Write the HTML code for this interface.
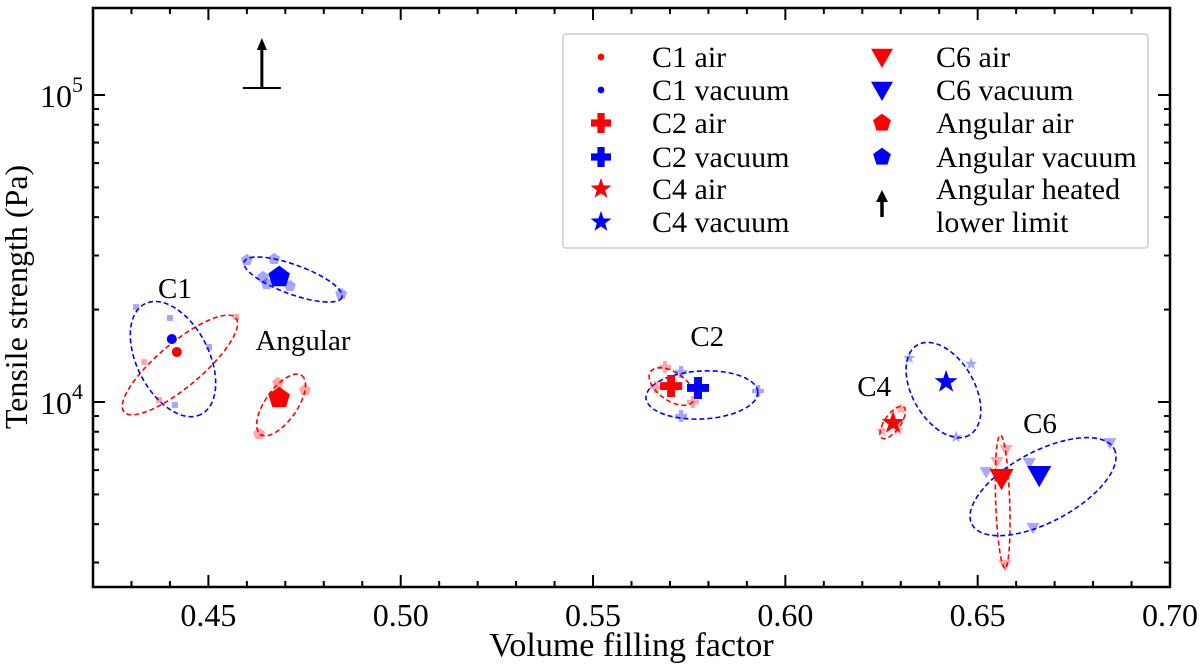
<!DOCTYPE html>
<html><head><meta charset="utf-8"><style>
html,body{margin:0;padding:0;background:#fff;}
svg text{font-family:"Liberation Serif","Times New Roman",serif;fill:#000;}
</style></head><body>
<svg id="chart" width="1200" height="665" viewBox="0 0 1200 665" xmlns="http://www.w3.org/2000/svg"></svg>
<script>
// ---- data ----
const xTicks = [0.45, 0.50, 0.55, 0.60, 0.65, 0.70];
const xTickLabels = ["0.45", "0.50", "0.55", "0.60", "0.65", "0.70"];
const yDecades = [4, 5];
const yTickLabels = ["4", "5"];
const groups = ["C1 air","C1 vacuum","C2 air","C2 vacuum","C4 air","C4 vacuum","C6 air","C6 vacuum","Angular air","Angular vacuum"];
const groupColors = ["red","blue","red","blue","red","blue","red","blue","red","blue"];
const groupShapes = ["circle","circle","plus","plus","star","star","tri","tri","pent","pent"];
const meanX = [0.4418,0.4405,0.5703,0.5773,0.6280,0.6418,0.6562,0.6660,0.4684,0.4684];
const meanY = [14550,16030,11270,11110,8550,11620,5650,5780,10300,25530];
const indX = [
 [0.4572,0.4333,0.4372],
 [0.4312,0.4400,0.4502,0.4413],
 [0.5687,0.5664,0.5760],
 [0.5729,0.5929,0.5729],
 [0.6301,0.6251,0.6293],
 [0.6322,0.6483,0.6444],
 [0.6574,0.6550,0.6571],
 [0.6844,0.6634,0.6522,0.6644],
 [0.4681,0.4751,0.4632],
 [0.4600,0.4671,0.4642,0.4652,0.4712,0.4845]
];
const indY = [
 [18920,13490,10150],
 [20370,18780,15100,9780],
 [13000,11190,10000],
 [12520,10860,9000],
 [9490,8050,8110],
 [13900,13300,7690],
 [6980,6380,2950],
 [7350,6330,5910,3890],
 [11540,10940,7870],
 [29010,29230,25530,24220,23880,22490]
];
const ellX = [0.4426,0.4408,0.5705,0.5783,0.6279,0.6411,0.6565,0.6670,0.4689,0.4720];
const ellY = [13200,13800,11230,10540,8580,10940,4740,5300,9780,25060];
const ellA = [73,62,26,56,19,52,66.5,80.5,36,52];
const ellB = [22,36,14,24,8,31,7,35.4,16,14.7];
const ellAng = [-40,63,35,-3,-55,60,88,-28,-55,20];
const clusterLabels = ["C1","Angular","C2","C4","C6"];
const clusterLabelX = [0.4413,0.4746,0.5797,0.6231,0.6662];
const clusterLabelY = [21800,14760,15200,10460,7930];
const arrowX = [0.4639];
const arrowY = [105400];

// ---- scales ----
const L=93,R=1170,T=8,B=587;
const X0=0.42,X1=0.70;
const LY0=4-(B-402)/307, LY1=4+(402-T)/307;
function sx(v){return L+(v-X0)/(X1-X0)*(R-L);}
function sy(v){const l=Math.log10(v);return B-(l-LY0)/(LY1-LY0)*(B-T);}

const svg=document.getElementById('chart');
const NS='http://www.w3.org/2000/svg';
function mk(tag,attrs,parent){const e=document.createElementNS(NS,tag);for(const k in attrs)e.setAttribute(k,attrs[k]);(parent||svg).appendChild(e);return e;}

// frame
const frame=mk('rect',{x:L,y:T,width:R-L,height:B-T,fill:'none',stroke:'#000','stroke-width':2.5});



// x ticks
const xt=mk('g',{});


for(let i=42;i<=70;i++){
  const v=i/100, px=sx(v), major=(i%5===0);
  const len=major?12:6;
  mk('line',{x1:px,y1:B,x2:px,y2:B-len,stroke:'#000','stroke-width':2},xt);
  mk('line',{x1:px,y1:T,x2:px,y2:T+len,stroke:'#000','stroke-width':2},xt);
}
xTicks.forEach((v,i)=>{
  const t=mk('text',{x:sx(v),y:B+39,'text-anchor':'middle','font-size':32},xt);
  t.textContent=xTickLabels[i];
  
  
});
const xtitle=mk('text',{x:(L+R)/2,y:B+69,'text-anchor':'middle','font-size':34});
xtitle.textContent='Volume filling factor';



// y ticks
const yt=mk('g',{});


for(let d=3;d<=5;d++){
  for(let m=1;m<=9;m++){
    const v=m*Math.pow(10,d);
    const l=Math.log10(v);
    if(l<LY0||l>LY1)continue;
    const py=sy(v), len=(m===1)?12:6;
    mk('line',{x1:L,y1:py,x2:L+len,y2:py,stroke:'#000','stroke-width':2},yt);
    mk('line',{x1:R,y1:py,x2:R-len,y2:py,stroke:'#000','stroke-width':2},yt);
  }
}
yDecades.forEach((d,i)=>{
  const py=sy(Math.pow(10,d));
  const t=mk('text',{x:40,y:py+12,'font-size':32},yt);
  t.textContent='10';
  const s=mk('tspan',{dy:-15,'font-size':22},t);
  s.textContent=yTickLabels[i];
  
  
});
const ytitle=mk('text',{x:0,y:0,'text-anchor':'middle','font-size':32,transform:'translate(27,297) rotate(-90)'});
ytitle.textContent='Tensile strength (Pa)';



// marker shapes
function marker(shape,cx,cy,s,color,op,parent){
  let e;
  if(shape==='circle'){e=mk('circle',{cx:cx,cy:cy,r:s*0.28,fill:color,'fill-opacity':op},parent);}
  else if(shape==='square'){e=mk('rect',{x:cx-s/2,y:cy-s/2,width:s,height:s,fill:color,'fill-opacity':op},parent);}
  else if(shape==='plus'){const w=s*0.36,h=s/2;
    e=mk('path',{d:`M${cx-w/2},${cy-h}h${w}v${h-w/2}h${h-w/2}v${w}h${-(h-w/2)}v${h-w/2}h${-w}v${-(h-w/2)}h${-(h-w/2)}v${-w}h${h-w/2}z`,fill:color,'fill-opacity':op},parent);}
  else if(shape==='star'){let d='';for(let k=0;k<10;k++){const r=(k%2?0.4:1)*s*0.55;const a=-Math.PI/2+k*Math.PI/5;d+=(k?'L':'M')+(cx+r*Math.cos(a)).toFixed(1)+','+(cy+r*Math.sin(a)).toFixed(1);}e=mk('path',{d:d+'Z',fill:color,'fill-opacity':op},parent);}
  else if(shape==='tri'){const h=s*0.55;e=mk('path',{d:`M${cx-h},${cy-h*0.75}L${cx+h},${cy-h*0.75}L${cx},${cy+h*1.0}Z`,fill:color,'fill-opacity':op},parent);}
  else if(shape==='pent'){let d='';for(let k=0;k<5;k++){const a=-Math.PI/2+k*2*Math.PI/5;const r=s*0.52;d+=(k?'L':'M')+(cx+r*Math.cos(a)).toFixed(1)+','+(cy+r*Math.sin(a)).toFixed(1);}e=mk('path',{d:d+'Z',fill:color,'fill-opacity':op},parent);}
  return e;
}
const bigSize=[18,18,22,22,22,22,22,22,22,22];

// ellipses
groups.forEach((g,i)=>{
  const cx=sx(ellX[i]),cy=sy(ellY[i]);
  const e=mk('ellipse',{cx:cx,cy:cy,rx:ellA[i],ry:ellB[i],transform:`rotate(${ellAng[i]} ${cx} ${cy})`,fill:'none',stroke:groupColors[i],'stroke-width':1.6,'stroke-dasharray':'5,3'});
  
  
});
// individual points
groups.forEach((g,i)=>{
  const grp=mk('g',{});
  
  
  const shape=groupShapes[i]==='circle'?'square':groupShapes[i];
  const size=groupShapes[i]==='circle'?6:12;
  indX[i].forEach((v,j)=>{
    const m=marker(shape,sx(v),sy(indY[i][j]),size,groupColors[i],0.35,grp);
    
    
  });
});
// means
groups.forEach((g,i)=>{
  const m=marker(groupShapes[i],sx(meanX[i]),sy(meanY[i]),bigSize[i],groupColors[i],1);
  
  
});
// cluster labels
clusterLabels.forEach((c,i)=>{
  const t=mk('text',{x:sx(clusterLabelX[i]),y:sy(clusterLabelY[i]),'text-anchor':'middle','font-size':29});
  t.textContent=c;
  
  
});
// lower limit arrow
arrowX.forEach((v,i)=>{
  const g=mk('g',{});
  
  
  const px=sx(v),py=sy(arrowY[i]);
  mk('line',{x1:px-19,y1:py,x2:px+19,y2:py,stroke:'#000','stroke-width':2},g);
  mk('line',{x1:px,y1:py,x2:px,y2:py-40,stroke:'#000','stroke-width':3},g);
  mk('path',{d:`M${px-5},${py-38}L${px+5},${py-38}L${px},${py-50}Z`,fill:'#000'},g);
});

// legend
const lg=mk('g',{});


mk('rect',{x:563,y:34,width:585,height:214,rx:3,fill:'#fff',stroke:'#ccc','stroke-width':1.5},lg);
const legItems=[[0,1,2,3,4,5],[6,7,8,9,-1]];
const rowY=[57,90,123,157,189,222];
const legSize=[12,12,20,20,20,20,20,20,18,18];
legItems.forEach((col,c)=>{
  const mx=c===0?601:882, tx=c===0?652:936;
  col.forEach((gi,r)=>{
    const ent=mk('g',{},lg);
    
    
    const y=rowY[r];
    if(gi>=0){
      marker(groupShapes[gi],mx,y,legSize[gi],groupColors[gi],1,ent);
      const t=mk('text',{x:tx,y:y+10,'font-size':30},ent);t.textContent=groups[gi];
    } else {
      const ay=y+16;
      mk('line',{x1:mx,y1:ay+12,x2:mx,y2:ay-4,stroke:'#000','stroke-width':3.5},ent);
      mk('path',{d:`M${mx-6},${ay-3}L${mx+6},${ay-3}L${mx},${ay-15}Z`,fill:'#000'},ent);
      const t=mk('text',{x:tx,y:y+10,'font-size':30},ent);t.textContent='Angular heated';
      const t2=mk('text',{x:tx,y:y+43,'font-size':30},ent);t2.textContent='lower limit';
    }
  });
});
</script>
</body></html>
